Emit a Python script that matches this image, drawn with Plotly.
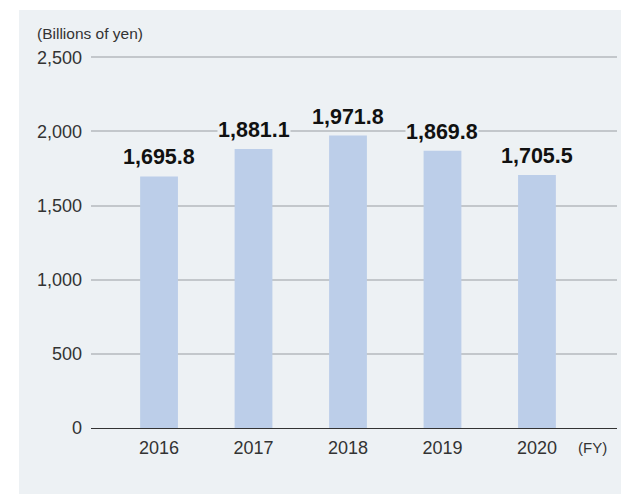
import plotly.graph_objects as go

years = ["2016", "2017", "2018", "2019", "2020"]
values = [1695.8, 1881.1, 1971.8, 1869.8, 1705.5]
labels = ["1,695.8", "1,881.1", "1,971.8", "1,869.8", "1,705.5"]
ytick_vals = [0, 500, 1000, 1500, 2000, 2500]
ytick_text = ["0", "500", "1,000", "1,500", "2,000", "2,500"]

PANEL = "#edf1f4"
BAR = "#bccee9"
FONT = "Liberation Sans, Arial, Helvetica, sans-serif"

W, H = 621, 495
L, R, T, B = 91, 4, 56, 67
pw, ph = W - L - R, H - T - B
YMAX = 2508

def px2x(p):
    return (p - L) / pw

def py2y(p):
    return (H - B - p) / ph

fig = go.Figure()
fig.add_trace(go.Bar(
    x=years, y=values, marker=dict(color=BAR, line=dict(width=0)),
    width=0.4, hoverinfo="skip",
))

annotations = []
for i, (v, lab) in enumerate(zip(values, labels)):
    annotations.append(dict(
        x=i, y=v, xref="x", yref="y", text=lab, showarrow=False,
        yanchor="bottom", yshift=6,
        font=dict(family=FONT, size=21.5, color="#111111", weight="bold"),
        bgcolor=PANEL, borderpad=0,
    ))
annotations.append(dict(
    x=px2x(35), y=py2y(33), xref="paper", yref="paper", text="(Billions of yen)",
    showarrow=False, xanchor="left", yanchor="middle",
    font=dict(family=FONT, size=15.5, color="#333333"),
))
annotations.append(dict(
    x=px2x(592), y=py2y(447), xref="paper", yref="paper", text="(FY)",
    showarrow=False, xanchor="center", yanchor="middle",
    font=dict(family=FONT, size=15, color="#333333"),
))

fig.update_layout(
    width=W, height=H,
    margin=dict(l=L, r=R, t=T, b=B),
    paper_bgcolor="white",
    plot_bgcolor="rgba(0,0,0,0)",
    showlegend=False,
    annotations=annotations,
    shapes=[dict(
        type="rect", xref="paper", yref="paper",
        x0=px2x(19), x1=px2x(621), y0=py2y(494), y1=py2y(10),
        fillcolor=PANEL, line=dict(width=0), layer="below",
    )],
    xaxis=dict(
        type="category", range=[-0.72, 4.847],
        showgrid=False, zeroline=False, showline=False,
        ticks="", ticklabelstandoff=7,
        tickfont=dict(family=FONT, size=18, color="#333333"),
        fixedrange=True,
    ),
    yaxis=dict(
        range=[0, YMAX], tickvals=ytick_vals, ticktext=ytick_text,
        showgrid=True, gridcolor="#c3c7cb", gridwidth=1.5,
        zeroline=True, zerolinecolor="#333333", zerolinewidth=1,
        showline=False, ticks="", ticklabelstandoff=8,
        tickfont=dict(family=FONT, size=18, color="#333333"),
        fixedrange=True,
    ),
)

fig.write_html("out.html")
